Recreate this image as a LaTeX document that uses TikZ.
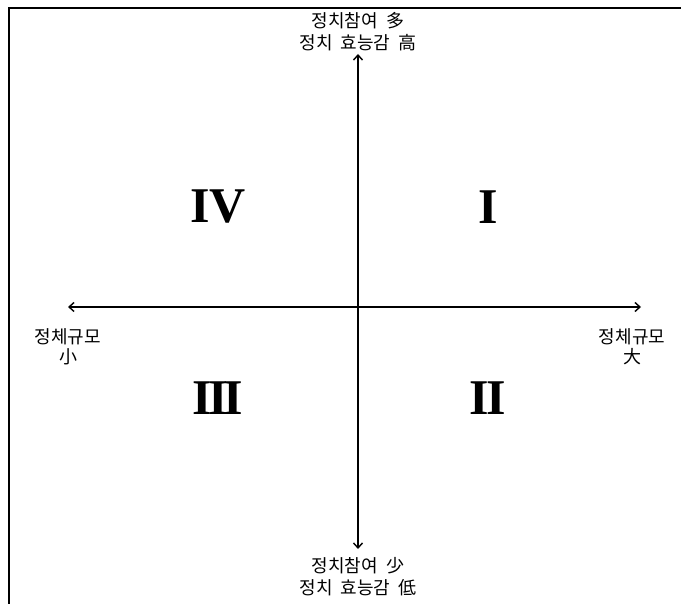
\documentclass[tikz,border=0pt]{standalone}
\usepackage{fontspec}
\setmainfont{Liberation Serif}
\newfontfamily\kr{Noto Sans CJK KR}
\usetikzlibrary{arrows.meta}
\newcommand{\wsp}{\hspace{0.45em}}
\tikzset{
  axis/.style={line width=1.4pt,{Straight Barb[length=5pt,width=9pt,line width=1.4pt]}-{Straight Barb[length=5pt,width=9pt,line width=1.4pt]}},
  lbl/.style={font=\kr\fontsize{18}{22}\selectfont,align=center,inner sep=0pt},
  sidelbl/.style={font=\kr\fontsize{18}{20}\selectfont,align=center,inner sep=0pt},
  quad/.style={font=\bfseries\fontsize{50}{50}\selectfont,inner sep=0pt},
  frame/.style={line width=2pt}
}
\begin{document}
\begin{tikzpicture}[x=1pt,y=-1pt]
\useasboundingbox (0,0) rectangle (681,604);
\draw[frame] (681,8) -- (9,8) -- (9,604);
\coordinate (T) at (358,54);
\coordinate (B) at (358,549);
\coordinate (L) at (68,307);
\coordinate (R) at (641,307);
\draw[axis] (T) -- (B);
\draw[axis] (L) -- (R);
\node[lbl] (top) at (358,32) {정치참여\wsp 多\\정치\wsp 효능감\wsp 高};
\node[lbl] (bot) at (358,577) {정치참여\wsp 少\\정치\wsp 효능감\wsp 低};
\node[sidelbl] (left) at (68,347) {정체규모\\小};
\node[sidelbl] (right) at (632,347) {정체규모\\大};
\node[quad] (q4) at (218,207) {IV};
\node[quad] (q1) at (488,207) {I};
\node[quad] (q3) at (218,398) {I\kern-4pt I\kern-4pt I};
\node[quad] (q2) at (488,398) {I\kern-2pt I};
\end{tikzpicture}
\end{document}
